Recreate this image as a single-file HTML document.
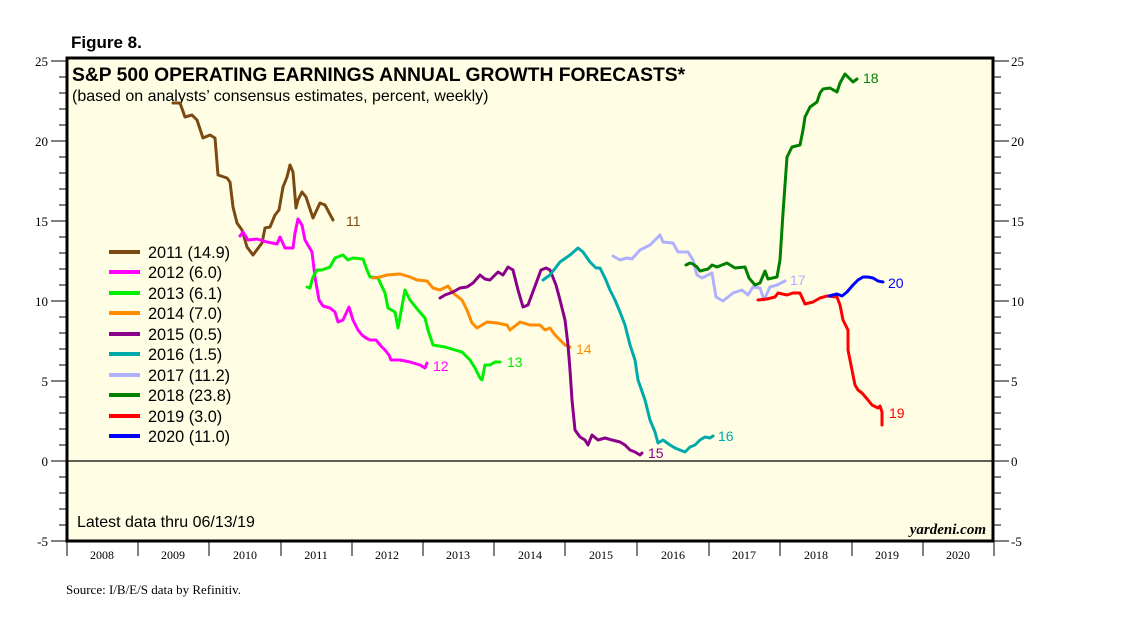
<!DOCTYPE html>
<html><head><meta charset="utf-8"><style>
body{margin:0;background:#fff;}
svg{display:block;}
</style></head><body>
<svg width="1138" height="621" viewBox="0 0 1138 621" xmlns="http://www.w3.org/2000/svg">
<rect x="67" y="58" width="926" height="483" fill="#fffee5" stroke="#000" stroke-width="3"/>
<line x1="67" y1="461" x2="993" y2="461" stroke="#000" stroke-width="1.2"/>
<g stroke="#000" stroke-width="1">
<path d="M51 61H67M51 141H67M51 221H67M51 301H67M51 381H67M51 461H67M51 541H67"/>
<path d="M59 77H67M59 93H67M59 109H67M59 125H67M59 157H67M59 173H67M59 189H67M59 205H67M59 237H67M59 253H67M59 269H67M59 285H67M59 317H67M59 333H67M59 349H67M59 365H67M59 397H67M59 413H67M59 429H67M59 445H67M59 477H67M59 493H67M59 509H67M59 525H67"/>
<path d="M993 61H1009M993 141H1009M993 221H1009M993 301H1009M993 381H1009M993 461H1009M993 541H1009"/>
<path d="M993 77H1001M993 93H1001M993 109H1001M993 125H1001M993 157H1001M993 173H1001M993 189H1001M993 205H1001M993 237H1001M993 253H1001M993 269H1001M993 285H1001M993 317H1001M993 333H1001M993 349H1001M993 365H1001M993 397H1001M993 413H1001M993 429H1001M993 445H1001M993 477H1001M993 493H1001M993 509H1001M993 525H1001"/>
<path d="M67 541V556M138 541V556M209 541V556M281 541V556M352 541V556M423 541V556M494 541V556M565 541V556M637 541V556M709 541V556M780 541V556M852 541V556M923 541V556M994 541V556"/>
</g>
<g font-family="Liberation Serif, serif" font-size="13" fill="#000">
<g text-anchor="end"><text x="48" y="66">25</text><text x="48" y="146">20</text><text x="48" y="226">15</text><text x="48" y="306">10</text><text x="48" y="386">5</text><text x="48" y="466">0</text><text x="48" y="546">-5</text></g>
<g><text x="1011" y="66">25</text><text x="1011" y="146">20</text><text x="1011" y="226">15</text><text x="1011" y="306">10</text><text x="1011" y="386">5</text><text x="1011" y="466">0</text><text x="1011" y="546">-5</text></g>
<g text-anchor="middle" font-size="12"><text x="102" y="559">2008</text><text x="173" y="559">2009</text><text x="245" y="559">2010</text><text x="316" y="559">2011</text><text x="387" y="559">2012</text><text x="458" y="559">2013</text><text x="530" y="559">2014</text><text x="601" y="559">2015</text><text x="673" y="559">2016</text><text x="744" y="559">2017</text><text x="816" y="559">2018</text><text x="887" y="559">2019</text><text x="958" y="559">2020</text></g>
<text x="66" y="594" font-size="13">Source: I/B/E/S data by Refinitiv.</text>
<text x="986" y="534" text-anchor="end" font-style="italic" font-weight="bold" font-size="15">yardeni.com</text>
</g>
<g font-family="Liberation Sans, sans-serif">
<text x="71" y="48" font-size="17" font-weight="bold">Figure 8.</text>
<text x="72" y="81" font-size="19.3" font-weight="bold">S&amp;P 500 OPERATING EARNINGS ANNUAL GROWTH FORECASTS*</text>
<text x="72" y="101" font-size="16">(based on analysts’ consensus estimates, percent, weekly)</text>
<text x="77" y="527" font-size="16">Latest data thru 06/13/19</text>
</g>
<g fill="none" stroke-width="3" stroke-linejoin="round" stroke-linecap="round">
<polyline stroke="#7b4a12" points="173,103 180,103 185,117 192,115 197,120 203,138 210,135 215,138 218,175 227,178 230,182 233,207 237,223 242,230 247,247 253,255 262,243 265,228 270,227 275,215 279,210 283,187 287,177 290,165 293,172 296,208 298,200 302,192 306,197 313,218 320,203 325,205 333,220"/>
<polyline stroke="#ff00ff" points="240,236 243,232 248,240 257,239 267,242 277,244 280,237 285,248 293,248 295,233 298,219 302,225 305,240 312,252 315,277 319,300 323,306 330,308 335,312 338,322 343,320 349,307 353,320 358,330 362,335 366,338 370,340 376,340 381,346 385,350 389,355 391,360 400,360 410,362 420,365 425,368 427,363"/>
<polyline stroke="#00ee00" points="307,287 310,288 313,277 317,270 322,270 330,267 335,258 343,255 348,260 353,258 363,259 367,270 370,277 378,278 385,293 388,308 395,312 398,328 405,290 410,300 418,310 425,318 428,330 433,345 445,347 455,350 462,352 470,360 475,368 480,378 482,380 485,365 490,365 495,362 500,362"/>
<polyline stroke="#ff8c00" points="373,278 380,277 387,275 400,274 410,277 417,280 427,281 433,288 440,290 448,286 453,293 462,300 467,310 472,323 477,328 487,322 497,323 507,325 510,330 520,322 530,325 540,325 545,330 550,328 555,335 560,340 565,345 570,347"/>
<polyline stroke="#8b008b" points="440,298 445,295 453,292 460,288 467,287 473,283 480,275 485,279 490,280 498,272 503,275 508,267 513,270 518,290 523,307 528,305 541,270 546,268 550,270 556,285 560,300 565,320 568,345 570,370 572,400 575,430 580,437 585,440 588,445 592,435 598,440 605,438 612,440 620,442 625,445 630,450 635,452 640,455 642,453"/>
<polyline stroke="#00aaaa" points="543,280 550,275 560,262 570,255 578,248 583,252 590,262 596,268 600,268 605,278 610,290 615,300 620,312 625,325 630,345 635,360 638,380 645,400 650,420 655,432 658,443 663,440 670,445 675,448 680,450 685,452 690,447 695,445 700,440 705,437 710,438 713,436"/>
<polyline stroke="#b0b0ff" points="613,256 620,260 627,258 632,259 640,250 650,245 660,235 663,242 673,243 678,252 688,252 693,260 697,275 702,278 712,273 716,297 723,301 733,293 742,290 748,295 753,287 760,288 764,300 770,287 777,285 785,281"/>
<polyline stroke="#008000" points="686,265 690,263 693,264 697,267 700,271 708,269 712,265 717,267 727,263 735,268 745,267 749,278 755,285 760,283 765,271 768,279 777,277 780,260 783,213 787,157 792,147 800,145 803,130 805,117 810,107 817,102 820,93 823,89 830,88 837,92 840,83 845,74 850,79 853,82 857,79"/>
<polyline stroke="#ff0000" points="758,300 767,299 775,297 778,293 787,295 793,293 800,293 805,304 813,302 820,298 827,296 837,297 840,305 843,320 848,330 848,350 852,370 855,385 858,390 862,393 868,400 872,405 878,408 880,406 882,412 882,425"/>
<polyline stroke="#0000ff" points="829,296 837,294 842,296 847,292 853,285 858,280 863,277 868,277 873,278 878,281 883,282"/>
</g>
<g font-family="Liberation Sans, sans-serif" font-size="14">
<text x="346" y="226" fill="#7b4a12">11</text>
<text x="433" y="371" fill="#ff00ff">12</text>
<text x="507" y="367" fill="#00ee00">13</text>
<text x="576" y="354" fill="#ff8c00">14</text>
<text x="648" y="458" fill="#8b008b">15</text>
<text x="718" y="441" fill="#00aaaa">16</text>
<text x="790" y="285" fill="#b0b0ff">17</text>
<text x="863" y="83" fill="#008000">18</text>
<text x="889" y="418" fill="#ff0000">19</text>
<text x="888" y="288" fill="#0000ff">20</text>
</g>
<g stroke-width="4">
<line x1="109" y1="252" x2="140" y2="252" stroke="#7b4a12"/>
<line x1="109" y1="272" x2="140" y2="272" stroke="#ff00ff"/>
<line x1="109" y1="293" x2="140" y2="293" stroke="#00ee00"/>
<line x1="109" y1="313" x2="140" y2="313" stroke="#ff8c00"/>
<line x1="109" y1="334" x2="140" y2="334" stroke="#8b008b"/>
<line x1="109" y1="354" x2="140" y2="354" stroke="#00aaaa"/>
<line x1="109" y1="375" x2="140" y2="375" stroke="#b0b0ff"/>
<line x1="109" y1="395" x2="140" y2="395" stroke="#008000"/>
<line x1="109" y1="416" x2="140" y2="416" stroke="#ff0000"/>
<line x1="109" y1="436" x2="140" y2="436" stroke="#0000ff"/>
</g>
<g font-family="Liberation Sans, sans-serif" font-size="16.3" fill="#000">
<text x="148" y="258">2011 (14.9)</text>
<text x="148" y="278">2012 (6.0)</text>
<text x="148" y="299">2013 (6.1)</text>
<text x="148" y="319">2014 (7.0)</text>
<text x="148" y="340">2015 (0.5)</text>
<text x="148" y="360">2016 (1.5)</text>
<text x="148" y="381">2017 (11.2)</text>
<text x="148" y="401">2018 (23.8)</text>
<text x="148" y="422">2019 (3.0)</text>
<text x="148" y="442">2020 (11.0)</text>
</g>
</svg>
</body></html>
